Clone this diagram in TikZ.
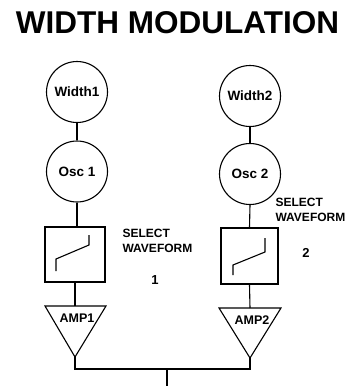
\documentclass[tikz,border=0pt]{standalone}
\usepackage{fontspec}
\setmainfont{Liberation Sans}
\begin{document}
\begin{tikzpicture}[x=1pt,y=-1pt,line width=1.1pt,
  unit/.style={circle,draw,minimum size=61pt,inner sep=0pt,
    font=\bfseries\fontsize{13.5}{15}\selectfont},
  selbox/.style={draw,minimum width=60pt,minimum height=55pt,inner sep=0pt},
  note/.style={font=\bfseries\fontsize{12}{15}\selectfont,align=left,anchor=west,inner sep=0pt},
  amplbl/.style={font=\bfseries\fontsize{12.5}{14}\selectfont,inner sep=0pt},
  wave/.style={line width=1.1pt}]
\useasboundingbox (0,0) rectangle (349,386);

% title
\node[font=\bfseries\fontsize{31.5}{36}\selectfont,inner sep=0pt] (title) at (177.5,22.5) {WIDTH MODULATION};

% left chain
\node[unit] (w1) at (77,92) {Width1};
\node[unit] (o1) at (77,171.5) {Osc 1};
\node[selbox] (s1) at (75,254.5) {};
\coordinate (t1l) at (45,306);
\coordinate (t1r) at (106,306);
\coordinate (t1a) at (75,357);
\coordinate (t1t) at (75,306);
\draw (t1l) -- (t1r) -- (t1a) -- cycle;
\node[amplbl] (a1) at (77,318) {AMP1};

% right chain
\node[unit] (w2) at (250,96) {Width2};
\node[unit] (o2) at (250,174) {Osc 2};
\node[selbox,minimum width=57pt,minimum height=56pt] (s2) at (249.5,256) {};
\coordinate (t2l) at (219,308);
\coordinate (t2r) at (281,308);
\coordinate (t2a) at (250,358);
\coordinate (t2t) at (250,308);
\draw (t2l) -- (t2r) -- (t2a) -- cycle;
\node[amplbl] (a2) at (252,320) {AMP2};

% waveform glyphs inside the selector boxes
\draw[wave] (56,271) -- (56,259) -- (89,245) -- (89,235);
\draw[wave] (233,275) -- (233,265) -- (265,252) -- (265,238);

% side labels
\node[note] (sel1) at (122,241) {SELECT\\WAVEFORM};
\node[font=\bfseries\fontsize{13}{15}\selectfont,inner sep=0pt] (n1) at (155,280) {1};
\node[note] (sel2) at (275,210) {SELECT\\WAVEFORM};
\node[font=\bfseries\fontsize{13}{15}\selectfont,inner sep=0pt] (n2) at (306,253) {2};

% connectors
\draw (w1.south) -- (o1.north);
\draw (o1.south) -- (o1.south |- s1.north);
\draw (s1.south) -- (t1t);
\draw (w2.south) -- (o2.north);
\draw (o2.south) -- (s2.north);
\draw (s2.south) -- (t2t);

% output bus
\coordinate (bus) at (167,369);
\coordinate (out) at (167,386);
\draw (t1a) |- (bus) -| (t2a);
\draw (bus) -- (out);
\end{tikzpicture}
\end{document}
